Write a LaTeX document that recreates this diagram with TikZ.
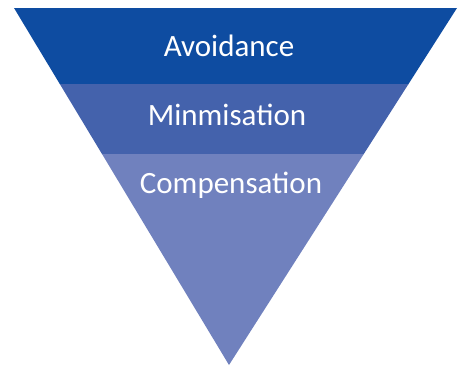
\documentclass[tikz,border=0pt]{standalone}
\usepackage{fontspec}
\setmainfont{Carlito}
\definecolor{bandA}{RGB}{14,76,161}
\definecolor{bandB}{RGB}{68,98,172}
\definecolor{bandC}{RGB}{112,129,190}
\tikzset{
  lbl/.style={anchor=base, text=white, font=\fontsize{31}{36}\selectfont, inner sep=0pt}
}
\begin{document}
\begin{tikzpicture}[x=1pt,y=-1pt]
\useasboundingbox (0,0) rectangle (463,367);
% edges: left x = 14 + 0.6025 (y-8); right x = 457 - 0.6385 (y-8)
\coordinate (TL) at (14,8);
\coordinate (TR) at (457,8);
\coordinate (L1) at (59.8,84);
\coordinate (R1) at (408.5,84);
\coordinate (L2) at (102,154);
\coordinate (R2) at (363.8,154);
\coordinate (AP) at (229,365);
\fill[bandA] (TL) -- (TR) -- (R1) -- (L1) -- cycle;
\fill[bandB] (L1) -- (R1) -- (R2) -- (L2) -- cycle;
\fill[bandC] (L2) -- (R2) -- (AP) -- cycle;
\node[lbl] (t1) at (229,56) {Avoidance};
\node[lbl] (t2) at (227,125) {Minmisation};
\node[lbl] (t3) at (231,193) {Compensation};
\end{tikzpicture}
\end{document}
